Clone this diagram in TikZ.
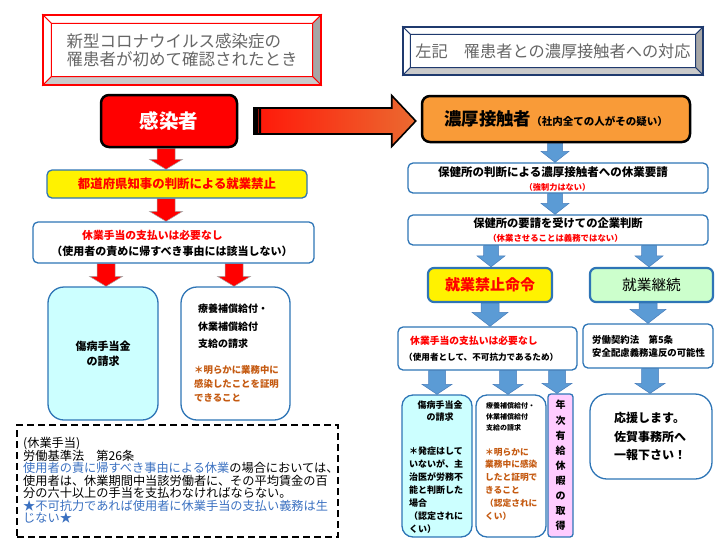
\documentclass[tikz,border=0pt]{standalone}
\usepackage{fontspec}
\setmainfont{Noto Sans CJK JP}
\usepackage{xcolor}
\usepackage{tikz}
\usetikzlibrary{calc}
\definecolor{boxblue}{HTML}{2E75B6}
\definecolor{arrowblue}{HTML}{5B9BD5}
\definecolor{arrowedge}{HTML}{4A7EBB}
\definecolor{navy}{HTML}{1F3A6E}
\definecolor{notered}{HTML}{FF0000}
\definecolor{noteorange}{HTML}{C55A11}
\definecolor{lawblue}{HTML}{3A70C0}
\definecolor{kokoorange}{HTML}{F99B38}
\definecolor{palecyan}{HTML}{CCFFFF}
\definecolor{palegreen}{HTML}{CCFFCC}
\definecolor{palepink}{HTML}{FFCCFF}
\definecolor{titlegray}{HTML}{666666}
\definecolor{bevelgray}{HTML}{A6A6A6}
\definecolor{bevellight}{HTML}{CACACA}
\definecolor{bigred}{HTML}{FF1A0A}
\definecolor{bigorange}{HTML}{EB6A30}
\pgfdeclarelayer{arrows}
\pgfsetlayers{arrows,main}
\newcommand{\fsz}[2]{\fontsize{#1}{#2}\selectfont\lineskiplimit=-20pt\relax}
% block arrow sizes: shaft half width, head half width, head length
\def\shafthw{9pt}\def\headhw{16.5pt}\def\headlen{10pt}
\newcommand{\arrowsize}[3]{\def\shafthw{#1pt}\def\headhw{#2pt}\def\headlen{#3pt}}
\newcommand{\blockdown}[4]{%
  \begin{pgfonlayer}{arrows}
  \path[#1] let \p1=(#2.south), \p2=(#3.north) in
    ({#4pt-\shafthw},\y1) -- ({#4pt+\shafthw},\y1) -- ({#4pt+\shafthw},{\y2+\headlen})
    -- ({#4pt+\headhw},{\y2+\headlen}) -- (#4pt,\y2) -- ({#4pt-\headhw},{\y2+\headlen})
    -- ({#4pt-\shafthw},{\y2+\headlen}) -- cycle;
  \end{pgfonlayer}}
\newcommand{\bevelframe}[3]{%
  \coordinate (#1-ia) at ($(#1.north west)+(#3,#3)$);
  \coordinate (#1-ib) at ($(#1.north east)+(-#3,#3)$);
  \coordinate (#1-ic) at ($(#1.south east)+(-#3,-#3)$);
  \coordinate (#1-id) at ($(#1.south west)+(#3,-#3)$);
  \filldraw[draw=#2, line width=1pt, fill=white] (#1.north west) -- (#1.north east) -- (#1-ib) -- (#1-ia) -- cycle;
  \filldraw[draw=#2, line width=1pt, fill=white] (#1.north west) -- (#1-ia) -- (#1-id) -- (#1.south west) -- cycle;
  \filldraw[draw=#2, line width=1pt, fill=bevelgray] (#1.north east) -- (#1.south east) -- (#1-ic) -- (#1-ib) -- cycle;
  \filldraw[draw=#2, line width=1pt, fill=bevellight] (#1.south west) -- (#1.south east) -- (#1-ic) -- (#1-id) -- cycle;
  \draw[#2, line width=2pt] (#1.north west) rectangle (#1.south east);}

\begin{document}
\begin{tikzpicture}[x=1pt, y=-1pt,
  box/.style={draw=boxblue, line width=1.3pt, rounded corners=5pt, fill=white, inner sep=0pt},
  tallbox/.style={box, rounded corners=16pt},
  titlebox/.style={fill=white, inner sep=0pt, align=left, text=titlegray},
  txt/.style={inner sep=0pt, align=left},
  redarrow/.style={fill=notered, draw=gray!70, line width=0.5pt},
  bluearrow/.style={fill=arrowblue, draw=arrowedge, line width=0.5pt}]
\useasboundingbox (0,0) rectangle (725,547);

% titles
\node[titlebox, minimum width=278pt, minimum height=70pt, font=\fsz{16.5}{18}] (tleft) at (182,50)
  {新型コロナウイルス感染症の\\罹患者が初めて確認されたとき};
\bevelframe{tleft}{notered}{8.5}
\node[titlebox, minimum width=300pt, minimum height=48pt, font=\fsz{16.2}{18}] (tright) at (553,51)
  {左記　罹患者との濃厚接触者への対応};
\bevelframe{tright}{navy}{7.5}

% left column
\node[draw=black, line width=2.5pt, fill=notered, rounded corners=8pt, minimum width=136pt, minimum height=52pt,
      text=white, font=\fsz{19.5}{22}\bfseries] (kansen) at (169,121) {感染者};
\node[box, fill=yellow, minimum width=260pt, minimum height=28pt, text=notered, font=\fsz{12.4}{14}\bfseries]
  (kinshi) at (177,184) {都道府県知事の判断による就業禁止};
\node[box, minimum width=281pt, minimum height=41pt] (teate) at (173.5,242.5) {};
\node[txt, anchor=west, text=notered, font=\fsz{10.8}{13}\bfseries] (teatea) at (82,235) {休業手当の支払いは必要なし};
\node[txt, font=\fsz{11}{13}\bfseries] (teateb) at (172,251) {（使用者の責めに帰すべき事由には該当しない）};
\node[tallbox, fill=palecyan, minimum width=110pt, minimum height=133pt, align=center, font=\fsz{11}{15}\bfseries]
  (shobyoL) at (103,353.5) {傷病手当金\\の請求};
\node[tallbox, minimum width=109pt, minimum height=133pt] (ryoyoL) at (235.5,353.5) {};
\node[txt, anchor=west, font=\fsz{10}{17.5}\bfseries] (ryoyoLa) at (198,326.5) {療養補償給付・\\休業補償給付\\支給の請求};
\node[txt, anchor=west, text=noteorange, font=\fsz{9.4}{14}\bfseries] (ryoyoLb) at (194,384)
  {＊明らかに業務中に\\感染したことを証明\\できること};
\node[draw=black, line width=2pt, dash pattern=on 7pt off 4pt, minimum width=321pt, minimum height=112pt, inner sep=0pt]
  (roki) at (177.5,481) {};
\node[txt, anchor=west, font=\fsz{12.2}{12.5}] (rokitxt) at (23,480.5)
  {(休業手当)\\労働基準法　第26条\\{\color{lawblue}使用者の責に帰すべき事由による休業}の場合においては、\\使用者は、休業期間中当該労働者に、その平均賃金の百\\分の六十以上の手当を支払わなければならない。\\{\color{lawblue}★不可抗力であれば使用者に休業手当の支払い義務は生}\\{\color{lawblue}じない★}};

% right column
\node[draw=black, line width=2.5pt, fill=kokoorange, rounded corners=8pt, minimum width=268pt, minimum height=46pt,
      font=\bfseries] (noko) at (556,119) {{\fsz{17.4}{20}濃厚接触者}{\fsz{10.5}{12}（社内全ての人がその疑い）}};
\node[box, minimum width=300pt, minimum height=30pt] (yosei) at (558,178) {};
\node[txt, font=\fsz{11.5}{13}\bfseries] (yoseia) at (553,172) {保健所の判断による濃厚接触者への休業要請};
\node[txt, text=notered, font=\fsz{8.2}{10}\bfseries] (yoseib) at (557.5,187) {（強制力はない）};
\node[box, minimum width=300pt, minimum height=30pt] (handan) at (558,230) {};
\node[txt, font=\fsz{11.3}{13}\bfseries] (handana) at (558,223) {保健所の要請を受けての企業判断};
\node[txt, text=notered, font=\fsz{8.4}{10}\bfseries] (handanb) at (555.5,238) {（休業させることは義務ではない）};
\node[box, fill=yellow, line width=2.2pt, rounded corners=6pt, minimum width=124pt, minimum height=34pt,
      text=notered, font=\fsz{15}{17}\bfseries] (meirei) at (490,285) {就業禁止命令};
\node[box, fill=palegreen, line width=2.2pt, rounded corners=6pt, minimum width=123pt, minimum height=34pt,
      font=\fsz{14.7}{17}] (keizoku) at (651.5,285) {就業継続};
\node[box, minimum width=179pt, minimum height=43pt] (fuka) at (487.5,348.5) {};
\node[txt, anchor=west, text=notered, font=\fsz{9.8}{12}\bfseries] (fukaa) at (410,341) {休業手当の支払いは必要なし};
\node[txt, anchor=west, font=\fsz{8.6}{10}\bfseries] (fukab) at (404,357) {（使用者として、不可抗力であるため）};
\node[box, minimum width=130pt, minimum height=44pt] (keiyaku) at (648,346) {};
\node[txt, anchor=west, font=\fsz{9.4}{13}\bfseries] (keiyakut) at (592,346.5) {労働契約法　第5条\\安全配慮義務違反の可能性};
\node[box, fill=palecyan, rounded corners=11pt, minimum width=70pt, minimum height=142pt] (shobyoR) at (437,466) {};
\node[txt, align=center, font=\fsz{9}{12}\bfseries] (shobyoRa) at (440,411) {傷病手当金\\の請求};
\node[txt, anchor=west, font=\fsz{9}{13}\bfseries] (shobyoRb) at (409,490)
  {＊発症はして\\いないが、主\\治医が労務不\\能と判断した\\場合\\（認定されに\\くい）};
\node[box, rounded corners=11pt, minimum width=70pt, minimum height=142pt] (ryoyoR) at (511,466) {};
\node[txt, anchor=west, font=\fsz{7}{11}\bfseries] (ryoyoRa) at (486,417) {療養補償給付・\\休業補償給付\\支給の請求};
\node[txt, anchor=west, text=noteorange, font=\fsz{8.7}{12.8}\bfseries] (ryoyoRb) at (485,484)
  {＊明らかに\\業務中に感染\\したと証明で\\きること\\（認定されに\\くい）};
\node[box, fill=palepink, rounded corners=3pt, minimum width=25pt, minimum height=143pt, align=center,
      font=\fsz{10}{15.1}\bfseries] (nenkyu) at (560.5,465.5) {年\\次\\有\\給\\休\\暇\\の\\取\\得};
\node[box, rounded corners=17pt, minimum width=122pt, minimum height=85pt] (oen) at (651,436.5) {};
\node[txt, anchor=west, font=\fsz{12}{18.5}\bfseries] (oent) at (614,436.5) {応援します。\\佐賀事務所へ\\一報下さい！};

% big arrow
\path[draw=black, line width=1.6pt, fill=bigred!60!black] let \p1=(kansen.east) in
  ({\x1+16pt},{\y1+13pt}) rectangle ({\x1+22pt},{\y1-13pt});
\fill[black] let \p1=(kansen.east) in ({\x1+16pt},{\y1+13pt}) rectangle ({\x1+20pt},{\y1-13pt});
\path[draw=black, line width=1.6pt, left color=bigred, right color=bigorange]
  let \p1=(kansen.east), \p2=(noko.west) in
  ({\x1+22pt},{\y1+13pt}) -- ({\x2-29pt},{\y1+13pt}) -- ({\x2-29pt},{\y1+25.5pt}) -- ({\x2-5pt},\y1)
  -- ({\x2-29pt},{\y1-25.5pt}) -- ({\x2-29pt},{\y1-13pt}) -- ({\x1+22pt},{\y1-13pt}) -- cycle;

% block arrows
\arrowsize{9}{16.5}{10}
\blockdown{redarrow}{kansen}{kinshi}{166}
\blockdown{redarrow}{kinshi}{teate}{166}
\blockdown{redarrow}{teate}{shobyoL}{106}
\blockdown{redarrow}{teate}{ryoyoL}{234}
\arrowsize{7.5}{14}{11}
\blockdown{bluearrow}{noko}{yosei}{555}
\blockdown{bluearrow}{yosei}{handan}{555}
\blockdown{bluearrow}{handan}{meirei}{491}
\blockdown{bluearrow}{handan}{keizoku}{649}
\arrowsize{9}{18}{14}
\blockdown{bluearrow}{meirei}{fuka}{490}
\blockdown{bluearrow}{keizoku}{keiyaku}{648}
\arrowsize{8.5}{15}{10}
\blockdown{bluearrow}{fuka}{shobyoR}{437}
\blockdown{bluearrow}{fuka}{ryoyoR}{508}
\blockdown{bluearrow}{fuka}{nenkyu}{557}
\blockdown{bluearrow}{keiyaku}{oen}{650}
\end{tikzpicture}
\end{document}
